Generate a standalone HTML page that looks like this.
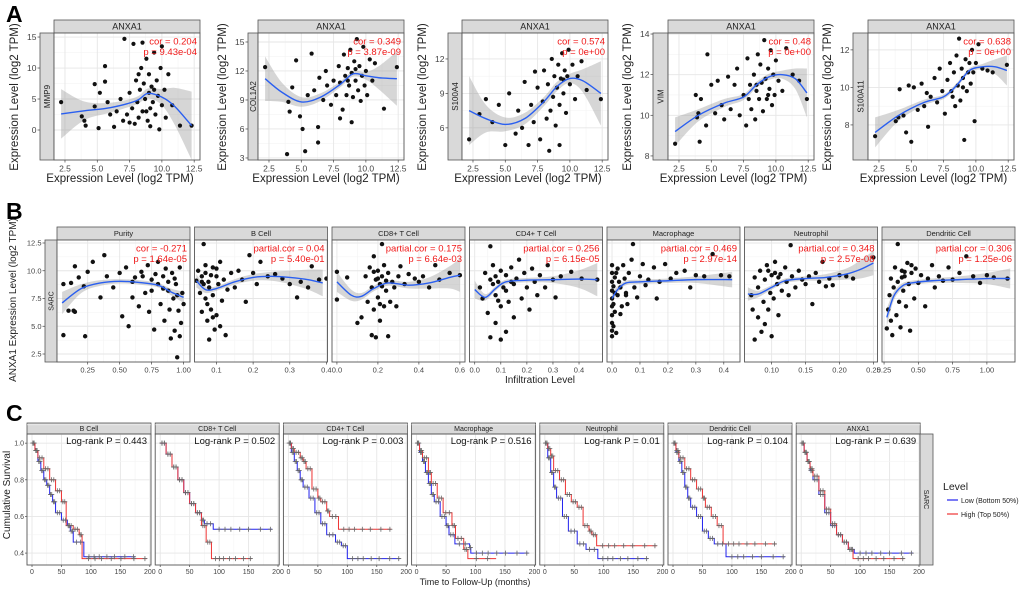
<!DOCTYPE html>
<html><head><meta charset="utf-8"><style>
html,body{margin:0;padding:0;background:#fff;}
svg{display:block;font-family:"Liberation Sans",Arial,sans-serif;}
</style></head><body>
<svg id="fig" width="1020" height="591" viewBox="0 0 1020 591" xmlns="http://www.w3.org/2000/svg">
<text x="6" y="22" font-size="23" font-weight="bold">A</text>
<text x="6" y="219" font-size="23" font-weight="bold">B</text>
<text x="6" y="421" font-size="23" font-weight="bold">C</text>
<text transform="translate(16,300) rotate(-90)" text-anchor="middle" font-size="10" fill="#222">ANXA1 Expression Level (log2 TPM)</text>
<text x="540" y="383" text-anchor="middle" font-size="10" fill="#222">Infiltration Level</text>
<text transform="translate(10,495) rotate(-90)" text-anchor="middle" font-size="10" fill="#222">Cumulative Survival</text>
<text x="475" y="585" text-anchor="middle" font-size="9" fill="#222">Time to Follow-Up (months)</text>
<g>
<text x="943" y="490" font-size="10.5" fill="#222">Level</text>
<line x1="947" y1="500" x2="958" y2="500" stroke="#2222ee" stroke-width="1.2"/>
<text x="961" y="503" font-size="7" fill="#222">Low (Bottom 50%)</text>
<line x1="947" y1="514" x2="958" y2="514" stroke="#ee3333" stroke-width="1.2"/>
<text x="961" y="517" font-size="7" fill="#222">High (Top 50%)</text>
</g>
</svg>
<script>
// ---------- Panel A data ----------
const aGenes = ["MMP9","COL1A2","S100A4","VIM","S100A11"];
const aCor = ["cor = 0.204","cor = 0.349","cor = 0.574","cor = 0.48","cor = 0.638"];
const aP = ["p = 9.43e-04","p = 3.87e-09","p = 0e+00","p = 0e+00","p = 0e+00"];
const aXTicks = [2.5,5.0,7.5,10.0,12.5];
const aYTicks = [[0,5,10,15],[3,6,9,12,15],[6,9,12],[8,10,12,14],[8,10,12]];
const aYDom = [[-4.84,15.65],[2.79,15.93],[3.2,14.26],[7.8,14.05],[6.13,12.9]];
const aPts1 = [2.2,4.5,3.8,2.2,4,1.5,4.1,0.7,4.8,3.8,4.8,7.4,5.1,0.3,5.2,6,5.6,10.3,5.6,7.8,5.8,4.5,6,2.5,6.3,0.5,6.5,3,6.8,5,7,1.5,7.1,14.7,7.3,2.5,7.5,6,7.7,3.5,7.8,13.9,7.9,1,8,8,8.1,4.5,8.2,2,8.3,6.5,8.4,10,8.5,14.1,8.5,3,8.6,7.5,8.7,5,8.8,11.5,8.9,1.5,9,6,9,9,9.1,3.5,9.2,7,9.3,4.5,9.4,12.5,9.5,2.5,9.6,8,9.7,5.5,9.8,0.1,9.9,10,10,13.5,10,4,10.2,6.5,10.3,2,10.5,9,10.8,4,11.4,0.7,12.3,0.7,8.2,9,8.8,3,9.4,6.5,9.1,0.6,7.5,1.2];
const aPts2 = [2.2,12.4,3.9,3.4,4,8.8,4.1,7.8,4.3,10.3,4.6,13.1,4.9,7.3,5.1,6,5.3,3.7,5.5,9.5,5.8,13.8,6,10,6.3,6.2,6.3,4.6,6.4,11.3,6.7,9,6.9,12,7,10.5,7.3,8.5,7.5,11,7.7,9.5,7.9,12.5,8,10.8,8.2,8,8.3,13.7,8.4,11.5,8.5,9.5,8.6,12.3,8.7,10.5,8.8,14.2,8.9,6.7,8.9,11.8,9,9.3,9.1,13,9.2,11,9.3,15.3,9.4,10,9.5,12.5,9.6,8.9,9.7,11.5,9.8,14.5,9.9,10.5,10,12,10.1,9.5,10.3,13.2,10.5,11,10.7,12.8,11.4,8.1,12.4,12.4,8,7.1,9.2,12.2,8.6,11];
const aPts3 = [2.2,5,3,7.2,3.5,8.5,4,6.5,4.5,8,5,4.5,5.3,9,5.8,5.5,6,7.5,6.3,6,6.5,10,6.8,4.5,7,8,7.2,6.5,7.5,9.5,7.7,5,7.9,8.3,8,11,8.2,6.8,8.3,9.8,8.5,7.5,8.6,12,8.7,8.7,8.8,10.5,8.9,6.2,9,9.5,9.1,11.5,9.2,8,9.3,10.3,9.4,12.5,9.5,9,9.6,11,9.7,7.3,9.8,10.5,9.9,12.8,10,9.8,10.2,11.5,10.4,8.5,10.6,10.5,10.9,11.8,11.3,9.3,12.4,8.5,8.4,4,9.2,4.5,7.3,10.9,9.5,10.2];
const aPts4 = [2.2,8.6,3.8,11,3.9,9.9,4,10.1,4.1,8.7,4.2,10.8,4.6,9.5,4.7,13,5,11.5,5.3,10.1,5.5,11.7,5.8,10.5,6,9.8,6.3,11.9,6.5,10.3,6.8,11.5,7,12.3,7.2,10,7.5,11,7.7,9.5,7.8,12.8,8,11.5,8.1,10.3,8.3,12,8.4,9.8,8.5,11.2,8.6,13,8.7,10.8,8.8,12.5,8.9,11.6,9,10.2,9.1,13.7,9.2,11.8,9.3,10.8,9.4,12.3,9.5,11.3,9.6,13.2,9.7,10.5,9.8,12,9.9,11,10,12.7,10.2,11.7,10.5,11.2,10.8,13.3,11.3,12,11.8,11.7,12.4,10.8,8.5,11.5,9.4,11,7.9,10.8];
const aPts5 = [2.2,7.4,3.8,8.2,4,8.4,4.1,9.9,4.4,8.5,4.6,7.6,4.8,10.1,5,7.1,5.2,10,5.5,8.8,5.8,10.2,6,9,6.2,9.7,6.3,7.9,6.5,9.5,6.8,10.5,7,9.2,7.2,11,7.4,9.8,7.6,8.6,7.8,10.4,8,11.3,8.2,9.5,8.3,10.8,8.4,9,8.5,11.7,8.6,10.1,8.7,12.6,8.8,9.3,8.9,11,9,10.5,9.1,7.2,9.2,11.5,9.3,9.8,9.4,10.8,9.5,11.3,9.6,10.2,9.7,12,9.8,10.8,9.9,8.2,10,11.3,10.2,12.3,10.5,11,10.9,10.9,11.3,10.8,12.4,11.2,9,10,8.1,9.8];
const aPts = [aPts1,aPts2,aPts3,aPts4,aPts5];
const aFitX = [[2.2,4,6,8,8.9,10,11,12.3],[2.2,3.5,5,6.5,8,9,10,11,12.4],[2.2,3.5,5,6.5,8,9,10,11,12.4],[2.2,4,6,7.5,8.5,9.5,10.5,11.5,12.4],[2.2,4,6,7.5,8.5,9.5,10.5,11.5,12.4]];
const aFitY = [[2.6,3.1,3.6,4.7,5.9,5.3,3.8,0.7],[11.2,9.8,8.8,9.3,10.6,11.7,11.5,11.3,11.2],[7.5,6.8,6.3,6.8,8.3,9.6,10.3,10.1,9.0],[9.2,10,10.6,10.9,11.5,11.9,12,11.8,11.1],[7.6,8.5,9.2,9.5,10.1,10.9,11.1,11.1,10.9]];
const aBand = [[4,1.5,0.8,0.6,0.8,1.3,3,5.5],[2.3,1,0.5,0.4,0.3,0.3,0.4,1.2,2.8],[3,1.2,0.6,0.5,0.4,0.4,0.4,1,2.8],[0.7,0.3,0.2,0.15,0.15,0.15,0.2,0.5,1.2],[0.8,0.3,0.15,0.12,0.12,0.12,0.15,0.4,0.8]];

// ---------- Panel B data ----------
const bCells = ["Purity","B Cell","CD8+ T Cell","CD4+ T Cell","Macrophage","Neutrophil","Dendritic Cell"];
const bCor = ["cor = -0.271","partial.cor = 0.04","partial.cor = 0.175","partial.cor = 0.256","partial.cor = 0.469","partial.cor = 0.348","partial.cor = 0.306"];
const bP = ["p = 1.64e-05","p = 5.40e-01","p = 6.64e-03","p = 6.15e-05","p = 2.97e-14","p = 2.57e-08","p = 1.25e-06"];
const bXDom = [[0.01,1.05],[0.04,0.403],[-0.024,0.625],[-0.02,0.49],[-0.018,0.458],[0.06,0.256],[0.235,1.205]];
const bXTicks = [[0.25,0.5,0.75,1.0],[0.1,0.2,0.3,0.4],[0.0,0.2,0.4,0.6],[0.0,0.1,0.2,0.3,0.4],[0.0,0.1,0.2,0.3,0.4],[0.10,0.15,0.20,0.25],[0.25,0.50,0.75,1.00]];
const bXLabels = [["0.25","0.50","0.75","1.00"],["0.1","0.2","0.3","0.4"],["0.0","0.2","0.4","0.6"],["0.0","0.1","0.2","0.3","0.4"],["0.0","0.1","0.2","0.3","0.4"],["0.10","0.15","0.20","0.25"],["0.25","0.50","0.75","1.00"]];
const bYTicks = [2.5,5.0,7.5,10.0,12.5];
const bPts = [
[0.06,8.8,0.06,4.2,0.1,6.4,0.14,6.4,0.12,8.9,0.15,6.3,0.15,10.4,0.18,9.4,0.22,8.6,0.23,4.1,0.25,9.9,0.29,10.8,0.35,7.6,0.38,11.4,0.4,9.5,0.45,8.5,0.5,9.8,0.52,5.9,0.55,10.3,0.57,5,0.6,7.6,0.62,9.4,0.65,6.8,0.67,9.9,0.7,8,0.72,10.5,0.73,6.3,0.75,9.2,0.77,4.7,0.8,8.8,0.8,10.8,0.82,7,0.84,9.5,0.85,5.5,0.86,10.2,0.88,8.2,0.89,6.5,0.9,3.9,0.91,9.8,0.92,7.5,0.93,4.6,0.94,8.8,0.95,2.2,0.96,6.4,0.97,10.3,0.98,5.3,0.99,8,1,7,0.97,4.1,0.88,9,0.75,8.2,0.68,9.5,0.6,9,0.84,8.4,0.93,9.3,0.78,9.7,0.95,7.8],
[0.045,9.1,0.05,10,0.055,8,0.06,9.5,0.06,6.3,0.065,12.4,0.07,7.5,0.07,10.5,0.075,5.5,0.078,9,0.08,3.8,0.08,8.5,0.085,6.5,0.09,10.3,0.09,7.8,0.095,4.7,0.1,9.5,0.1,6,0.105,8.8,0.11,10.8,0.11,5,0.115,7.3,0.12,9.2,0.125,4.2,0.13,8.3,0.14,9.8,0.15,8.5,0.16,10,0.17,9.2,0.18,7.2,0.19,11.4,0.2,9.8,0.21,8.8,0.22,10.8,0.24,9.5,0.26,9.7,0.28,9.3,0.3,8.8,0.32,7.6,0.33,9,0.35,8.5,0.36,10.4,0.38,9.2,0.4,9.3,0.07,9.8,0.085,9.6,0.1,10.2,0.065,8.8,0.075,7,0.09,5.8,0.06,9],
[0.0,9.9,0.0,7.4,0.05,9.4,0.1,5.3,0.12,5.8,0.14,9.5,0.15,7.2,0.16,10.3,0.17,4.2,0.17,8.5,0.18,6.5,0.18,11.3,0.19,9.2,0.19,4,0.2,7.6,0.2,10,0.21,8.8,0.21,5.5,0.22,12.4,0.22,9.5,0.23,6.8,0.23,10.5,0.24,8.2,0.25,4.1,0.25,9.8,0.26,7.2,0.27,9,0.28,8.5,0.29,6.8,0.3,9.5,0.31,10.4,0.33,8.8,0.35,9.7,0.38,9.3,0.4,9,0.42,9.5,0.45,8.5,0.48,10.5,0.5,9.2,0.55,9.8,0.6,9.6,0.2,9.3,0.22,8.6,0.18,9.9,0.21,7,0.24,9.1],
[0.02,8.5,0.03,7.5,0.04,9.8,0.05,6.2,0.06,9.2,0.06,4,0.07,10.5,0.08,7.8,0.08,5.3,0.09,9,0.1,10,0.1,6.8,0.11,8.5,0.12,4.5,0.12,9.6,0.13,7.2,0.14,10.3,0.15,8.8,0.15,5.8,0.16,9.3,0.17,11,0.18,7.5,0.19,9.8,0.2,8.5,0.21,6.5,0.22,10.2,0.23,9,0.24,7.8,0.25,9.6,0.27,8.5,0.28,10.5,0.3,9.2,0.31,7.6,0.33,9.5,0.37,9.9,0.41,9.3,0.47,9.2,0.06,12.2,0.1,3.8,0.08,9.5,0.12,8.2,0.14,9,0.07,8.8,0.09,7.3],
[0,4.1,0,4.6,0,5.3,0,6,0,6.8,0,7.5,0,8.2,0,9,0,9.8,0,10.5,0.005,5,0.005,7,0.005,8.6,0.01,6.3,0.01,9.4,0.015,4.4,0.02,7.8,0.02,10.2,0.025,9,0.03,8.5,0.035,6.8,0.04,10.5,0.045,9.3,0.05,8,0.055,7,0.06,9.8,0.07,11,0.075,12.4,0.08,8.5,0.09,7.6,0.1,9.5,0.11,10.6,0.12,8.7,0.13,9.2,0.15,10.3,0.16,7.5,0.17,9,0.19,10.6,0.21,9.3,0.23,9.8,0.26,10,0.28,8.5,0.3,9.6,0.33,9.5,0.36,11.5,0.39,9.6,0.42,9.5,0.03,6.1,0.05,7.8,0.01,8,0.015,9.8],
[0.07,7.8,0.072,6.5,0.075,9.4,0.075,3.8,0.08,8.5,0.08,5.8,0.083,10,0.085,4.5,0.088,7.2,0.09,9.2,0.09,5.2,0.093,10.5,0.095,6.5,0.098,8,0.1,9.6,0.1,4.1,0.103,7.5,0.105,10.8,0.108,8.8,0.11,6,0.113,9.7,0.115,8.2,0.12,10.3,0.122,9,0.125,7.8,0.128,12.3,0.13,9.5,0.135,8.5,0.14,10,0.145,9.2,0.15,8.8,0.155,9.5,0.16,7,0.165,9.8,0.17,9,0.175,10.8,0.18,8.6,0.185,9.3,0.19,8.7,0.2,9.6,0.21,9.5,0.22,9.3,0.25,11.2,0.11,9.4,0.095,10,0.105,9.8],
[0.27,4.8,0.28,6.5,0.29,7.8,0.3,9.3,0.3,5.5,0.31,4.2,0.32,8.5,0.33,10.3,0.34,6,0.35,12.4,0.35,9,0.36,7.2,0.37,4.9,0.38,10,0.39,8.2,0.4,9.5,0.41,6.8,0.42,10.7,0.43,8.8,0.44,4.6,0.45,9.8,0.47,7.5,0.48,10.2,0.5,8.9,0.52,9.6,0.55,6.8,0.57,9.3,0.6,10.5,0.62,8.5,0.65,9.5,0.68,9.1,0.72,10.3,0.75,9.2,0.8,9.8,0.85,11.3,0.9,9.5,0.95,8.9,1.0,9.6,1.05,9.4,1.15,9.3,0.4,9.9,0.45,10.5,0.38,9.4]
];
const bFitX = [[0.05,0.2,0.35,0.5,0.65,0.8,0.9,1.0],[0.045,0.07,0.1,0.15,0.2,0.25,0.3,0.35,0.39],[0,0.07,0.12,0.18,0.25,0.35,0.45,0.55,0.6],[0,0.04,0.08,0.12,0.2,0.3,0.4,0.47],[0,0.02,0.05,0.1,0.2,0.3,0.43],[0.065,0.08,0.1,0.12,0.15,0.18,0.21,0.23,0.25],[0.27,0.32,0.38,0.45,0.6,0.8,1.0,1.17]];
const bFitY = [[7.1,8.4,8.9,9.05,8.95,8.7,8.1,7.6],[9.1,8.3,8.4,9.0,9.4,9.5,9.4,9.2,8.9],[9,7.8,7.7,8.4,8.9,8.7,8.9,9.4,9.6],[8.3,7.6,8.4,9.0,9.15,9.2,9.25,9.2],[7.5,8.3,8.9,9.0,9.1,9.2,9.2],[7.9,7.9,8.5,9.1,9.3,9.4,9.7,10.1,10.7],[5.8,7.7,8.6,8.9,9.1,9.2,9.3,9.3]];
const bBand = [[1,0.4,0.25,0.2,0.2,0.2,0.3,0.5],[0.6,0.3,0.2,0.25,0.3,0.4,0.6,0.9,1.2],[0.9,0.5,0.3,0.25,0.25,0.3,0.5,1,1.5],[0.8,0.3,0.2,0.2,0.2,0.3,0.8,1.5],[0.5,0.3,0.2,0.2,0.2,0.3,0.7],[0.6,0.3,0.2,0.2,0.2,0.3,0.5,0.8,1.1],[0.8,0.4,0.25,0.2,0.2,0.3,0.5,0.9]];

// ---------- Panel C data ----------
const cCells = ["B Cell","CD8+ T Cell","CD4+ T Cell","Macrophage","Neutrophil","Dendritic Cell","ANXA1"];
const cP = ["Log-rank P = 0.443","Log-rank P = 0.502","Log-rank P = 0.003","Log-rank P = 0.516","Log-rank P = 0.01","Log-rank P = 0.104","Log-rank P = 0.639"];
const cXTicks = [0,50,100,150,200];
const cYTicks = [0.4,0.6,0.8,1.0];
const cLowT = [[0,5,10,15,20,25,30,35,40,50,60,65,70,88,175],[0,10,20,30,40,50,60,70,75,90,190],[0,5,10,15,20,25,35,45,55,65,80,90,100,190],[0,5,10,15,20,25,30,40,50,55,65,90,92,190],[0,5,10,15,20,30,40,55,70,90,175],[0,5,10,15,20,25,30,40,50,60,70,90,190],[0,5,10,15,20,30,40,50,60,70,80,90,190]];
const cLowS = [[1,0.96,0.9,0.85,0.8,0.77,0.72,0.68,0.62,0.58,0.55,0.52,0.46,0.38,0.38],[1,0.94,0.87,0.8,0.73,0.67,0.62,0.58,0.56,0.53,0.53],[1,0.95,0.9,0.85,0.8,0.76,0.7,0.62,0.56,0.5,0.46,0.44,0.37,0.37],[1,0.95,0.9,0.84,0.78,0.72,0.68,0.6,0.55,0.5,0.45,0.43,0.40,0.40],[1,0.92,0.84,0.76,0.7,0.6,0.52,0.45,0.42,0.37,0.37],[1,0.95,0.9,0.84,0.76,0.7,0.65,0.6,0.52,0.48,0.45,0.38,0.38],[1,0.95,0.9,0.85,0.8,0.72,0.62,0.55,0.5,0.46,0.42,0.4,0.4]];
const cHighT = [[0,5,10,20,30,40,50,58,70,80,85,195],[0,10,20,30,40,50,60,70,78,87,155],[0,5,10,20,25,30,40,50,55,65,70,85,175],[0,5,10,20,25,35,45,60,66,80,87,135],[0,5,10,15,25,35,45,55,65,75,80,88,190],[0,5,10,20,30,40,50,55,65,75,85,175],[0,5,10,15,20,30,40,50,60,70,80,88,175]];
const cHighS = [[1,0.96,0.92,0.86,0.8,0.74,0.68,0.55,0.53,0.5,0.37,0.37],[1,0.94,0.87,0.8,0.73,0.67,0.62,0.55,0.46,0.37,0.37],[1,0.97,0.95,0.92,0.9,0.86,0.75,0.7,0.68,0.63,0.6,0.53,0.53],[1,0.96,0.92,0.84,0.78,0.7,0.62,0.55,0.48,0.42,0.37,0.37],[1,0.97,0.93,0.85,0.8,0.72,0.68,0.65,0.55,0.52,0.5,0.44,0.44],[1,0.96,0.92,0.86,0.8,0.75,0.7,0.65,0.6,0.55,0.45,0.45],[1,0.95,0.9,0.86,0.82,0.74,0.64,0.56,0.5,0.46,0.42,0.37,0.37]];

// ---------- helpers ----------
const NS = "http://www.w3.org/2000/svg";
const svg = document.getElementById("fig");
function mk(tag, attrs, parent){ const e=document.createElementNS(NS,tag); for(const k in attrs) e.setAttribute(k,attrs[k]); (parent||svg).appendChild(e); return e; }
function lin(d0,d1,r0,r1){ return v => r0+(v-d0)*(r1-r0)/(d1-d0); }
function smoothPath(px,py){
  let d="M"+px[0]+","+py[0];
  for(let i=0;i<px.length-1;i++){
    const x0=px[Math.max(i-1,0)],y0=py[Math.max(i-1,0)],x1=px[i],y1=py[i],x2=px[i+1],y2=py[i+1],x3=px[Math.min(i+2,px.length-1)],y3=py[Math.min(i+2,py.length-1)];
    d+=" C"+(x1+(x2-x0)/6)+","+(y1+(y2-y0)/6)+" "+(x2-(x3-x1)/6)+","+(y2-(y3-y1)/6)+" "+x2+","+y2;
  }
  return d;
}
let clipId=0;
function clipRect(x,y,w,h){ const id="cp"+(clipId++); const cp=mk("clipPath",{id:id}); mk("rect",{x:x,y:y,width:w,height:h},cp); return "url(#"+id+")"; }
function strip(x,y,w,h,label,fs,name){
  const g=mk("g",{});
  
  
  mk("rect",{x:x,y:y,width:w,height:h,fill:"#d9d9d9",stroke:"#555","stroke-width":0.8},g);
  const t=mk("text",{x:x+w/2,y:y+h/2+fs*0.36,"text-anchor":"middle","font-size":fs,fill:"#222"},g);
  t.textContent=label;
}
function vstrip(x,y,w,h,label,fs,name,rot){
  const g=mk("g",{});
  
  
  mk("rect",{x:x,y:y,width:w,height:h,fill:"#d9d9d9",stroke:"#555","stroke-width":0.8},g);
  const t=mk("text",{transform:"translate("+(x+w/2+(rot>0?-fs*0.36:fs*0.36))+","+(y+h/2)+") rotate("+rot+")","text-anchor":"middle","font-size":fs,fill:"#222"},g);
  t.textContent=label;
}

function scatterPanel(o){
  const g=mk("g",{});
  
  
  const X=lin(o.xd[0],o.xd[1],o.x0,o.x1), Y=lin(o.yd[0],o.yd[1],o.y1,o.y0);
  mk("rect",{x:o.x0,y:o.y0,width:o.x1-o.x0,height:o.y1-o.y0,fill:"#fff"},g);
  for(let i=0;i<o.xt.length-1;i++){ const m=X((o.xt[i]+o.xt[i+1])/2); mk("line",{x1:m,x2:m,y1:o.y0,y2:o.y1,stroke:"#f3f3f3","stroke-width":0.6},g); }
  for(let i=0;i<o.yt.length-1;i++){ const m=Y((o.yt[i]+o.yt[i+1])/2); mk("line",{x1:o.x0,x2:o.x1,y1:m,y2:m,stroke:"#f3f3f3","stroke-width":0.6},g); }
  o.xt.forEach(v=>{ const x=X(v); if(x>o.x0&&x<o.x1) mk("line",{x1:x,x2:x,y1:o.y0,y2:o.y1,stroke:"#e6e6e6","stroke-width":0.9},g); });
  o.yt.forEach(v=>{ const y=Y(v); if(y>o.y0&&y<o.y1) mk("line",{x1:o.x0,x2:o.x1,y1:y,y2:y,stroke:"#e6e6e6","stroke-width":0.9},g); });
  const cp=clipRect(o.x0,o.y0,o.x1-o.x0,o.y1-o.y0);
  const inner=mk("g",{"clip-path":cp},g);
  const ux=o.fx.map(X), uy=o.fy.map((v,i)=>Y(v+o.band[i])), ly=o.fy.map((v,i)=>Y(v-o.band[i]));
  let bd=smoothPath(ux,uy);
  const rx=ux.slice().reverse(), ry=ly.slice().reverse();
  bd+=" L"+rx[0]+","+ry[0]+smoothPath(rx,ry).replace(/^M[^ ]+/,"")+" Z";
  const band=mk("path",{d:bd,fill:"#999","fill-opacity":0.4,stroke:"none"},inner);
  
  
  for(let i=0;i<o.pts.length;i+=2){
    const c=mk("circle",{cx:X(o.pts[i]),cy:Y(o.pts[i+1]),r:o.r,fill:"#111"},inner);
    
    
  }
  const fit=mk("path",{d:smoothPath(o.fx.map(X),o.fy.map(Y)),fill:"none",stroke:"#2a5ff0","stroke-width":1.4},inner);
  
  
  mk("rect",{x:o.x0,y:o.y0,width:o.x1-o.x0,height:o.y1-o.y0,fill:"none",stroke:"#555","stroke-width":0.9},g);
  const t1=mk("text",{x:o.x1-3,y:o.y0+o.cfs+2,"text-anchor":"end","font-size":o.cfs,fill:"#f01818"},g); t1.textContent=o.cor;
  
  
  const t2=mk("text",{x:o.x1-3,y:o.y0+2*o.cfs+3,"text-anchor":"end","font-size":o.cfs,fill:"#f01818"},g); t2.textContent=o.p;
  
  
  o.xt.forEach((v,i)=>{ const x=X(v); mk("line",{x1:x,x2:x,y1:o.y1,y2:o.y1+2.5,stroke:"#444","stroke-width":0.7},g);
    const t=mk("text",{x:x,y:o.y1+3+o.tfs,"text-anchor":"middle","font-size":o.tfs,fill:"#444"},g); t.textContent=o.xl?o.xl[i]:v.toFixed(1);
    
     });
  if(o.ytl!==false){
    o.yt.forEach(v=>{ const y=Y(v); if(y<o.y0-1||y>o.y1+1) return; mk("line",{x1:o.ax-2.5,x2:o.ax,y1:y,y2:y,stroke:"#444","stroke-width":0.7},g);
      const t=mk("text",{x:o.ax-3.5,y:y+o.tfs*0.35,"text-anchor":"end","font-size":o.tfs,fill:"#444"},g); t.textContent=o.yfmt(v);
      
       });
  }
  return g;
}

// ---------- Panel A ----------
const aX0=[54,258,462,668,868], aColW=[14,10,14,15,15];
for(let k=0;k<5;k++){
  const x0=aX0[k], x1=x0+146, col=x0-aColW[k];
  strip(x0,20,146,13,"ANXA1",9,"a-strip-"+aGenes[k].toLowerCase());
  vstrip(col,33,aColW[k],127,aGenes[k],8,"a-row-strip-"+aGenes[k].toLowerCase(),-90);
  scatterPanel({name:"a-scatter-"+aGenes[k].toLowerCase(),x0:x0,x1:x1,y0:33,y1:160,xd:[1.65,12.95],yd:aYDom[k],xt:aXTicks,yt:aYTicks[k],
    pts:aPts[k],fx:aFitX[k],fy:aFitY[k],band:aBand[k],cor:aCor[k],p:aP[k],cfs:9.5,tfs:8.5,r:2.1,ax:col,yfmt:v=>String(v)});
  const yt=mk("text",{transform:"translate("+(col-22)+",97) rotate(-90)","text-anchor":"middle","font-size":11.5,fill:"#222"});
  yt.textContent="Expression Level (log2 TPM)";
  
  
  const xt=mk("text",{x:(col+x1)/2,y:182,"text-anchor":"middle","font-size":11.5,fill:"#222"});
  xt.textContent="Expression Level (log2 TPM)";
  
  
}

// ---------- Panel B ----------
vstrip(45,240,12,122,"SARC",7,"b-row-strip-sarc",-90);
for(let k=0;k<7;k++){
  const x0=57+k*137.5, x1=x0+133;
  strip(x0,227,133,13,bCells[k],7.5,"b-strip-"+k);
  scatterPanel({name:"b-scatter-"+k,x0:x0,x1:x1,y0:240,y1:362,xd:bXDom[k],yd:[1.78,12.77],xt:bXTicks[k],xl:bXLabels[k],yt:bYTicks,
    pts:bPts[k],fx:bFitX[k],fy:bFitY[k],band:bBand[k],cor:bCor[k],p:bP[k],cfs:9.5,tfs:7.5,r:2.2,ax:45,ytl:k===0,yfmt:v=>v.toFixed(1)});
}

// ---------- Panel C ----------
function stepPath(ts,ss,X,Y){
  let d="M"+X(ts[0])+","+Y(ss[0]);
  for(let i=1;i<ts.length;i++){ d+=" H"+X(ts[i])+" V"+Y(ss[i]); }
  return d;
}
for(let k=0;k<7;k++){
  const x0=27+k*128.2, x1=x0+124, y0=434, y1=565;
  strip(x0,423,124,11,cCells[k],7,"c-strip-"+k);
  const g=mk("g",{});
  
  
  const X=lin(-8.5,202,x0,x1), Y=lin(0.335,1.05,y1,y0);
  cXTicks.forEach(v=>{ mk("line",{x1:X(v),x2:X(v),y1:y0,y2:y1,stroke:"#e6e6e6","stroke-width":0.9},g);
    if(v<200) mk("line",{x1:X(v+25),x2:X(v+25),y1:y0,y2:y1,stroke:"#f3f3f3","stroke-width":0.6},g);
    mk("line",{x1:X(v),x2:X(v),y1:y1,y2:y1+2,stroke:"#444","stroke-width":0.7},g);
    const t=mk("text",{x:X(v),y:y1+9,"text-anchor":"middle","font-size":7,fill:"#444"},g); t.textContent=v;
    
     });
  cYTicks.forEach(v=>{ mk("line",{x1:x0,x2:x1,y1:Y(v),y2:Y(v),stroke:"#e6e6e6","stroke-width":0.9},g);
    mk("line",{x1:x0,x2:x1,y1:Y(v+0.1),y2:Y(v+0.1),stroke:"#f3f3f3","stroke-width":0.6},g);
    if(k===0){ mk("line",{x1:x0-2,x2:x0,y1:Y(v),y2:Y(v),stroke:"#444","stroke-width":0.7},g);
      const t=mk("text",{x:x0-3,y:Y(v)+2.5,"text-anchor":"end","font-size":7,fill:"#444"},g); t.textContent=v.toFixed(1);
      
       } });
  const lo=mk("path",{d:stepPath(cLowT[k],cLowS[k],X,Y),fill:"none",stroke:"#2222ee","stroke-width":1},g);
  
  
  const hi=mk("path",{d:stepPath(cHighT[k],cHighS[k],X,Y),fill:"none",stroke:"#ee3333","stroke-width":1},g);
  
  
  [[cLowT[k],cLowS[k]],[cHighT[k],cHighS[k]]].forEach(([ts,ss])=>{
    for(let i=1;i<ts.length;i++){
      const seg=ts[i]-ts[i-1];
      const fr = seg>60 ? [0.1,0.2,0.3,0.45,0.6,0.8,0.97] : [0.3,0.7];
      fr.forEach(f=>{
        const cx=X(ts[i-1]+seg*f), cy=Y(ss[i-1]);
        const m=mk("path",{d:"M"+(cx-2.5)+","+cy+" h5 M"+cx+","+(cy-2.5)+" v5",stroke:"#666","stroke-width":0.8},g);
        
        
      });
    }
  });
  mk("rect",{x:x0,y:y0,width:124,height:y1-y0,fill:"none",stroke:"#555","stroke-width":0.9},g);
  const t=mk("text",{x:x1-4,y:y0+10,"text-anchor":"end","font-size":9.5,fill:"#111"},g); t.textContent=cP[k];
  
  
}
vstrip(920,434,13,131,"SARC",7,"c-row-strip-sarc",90);
</script>
</body></html>
